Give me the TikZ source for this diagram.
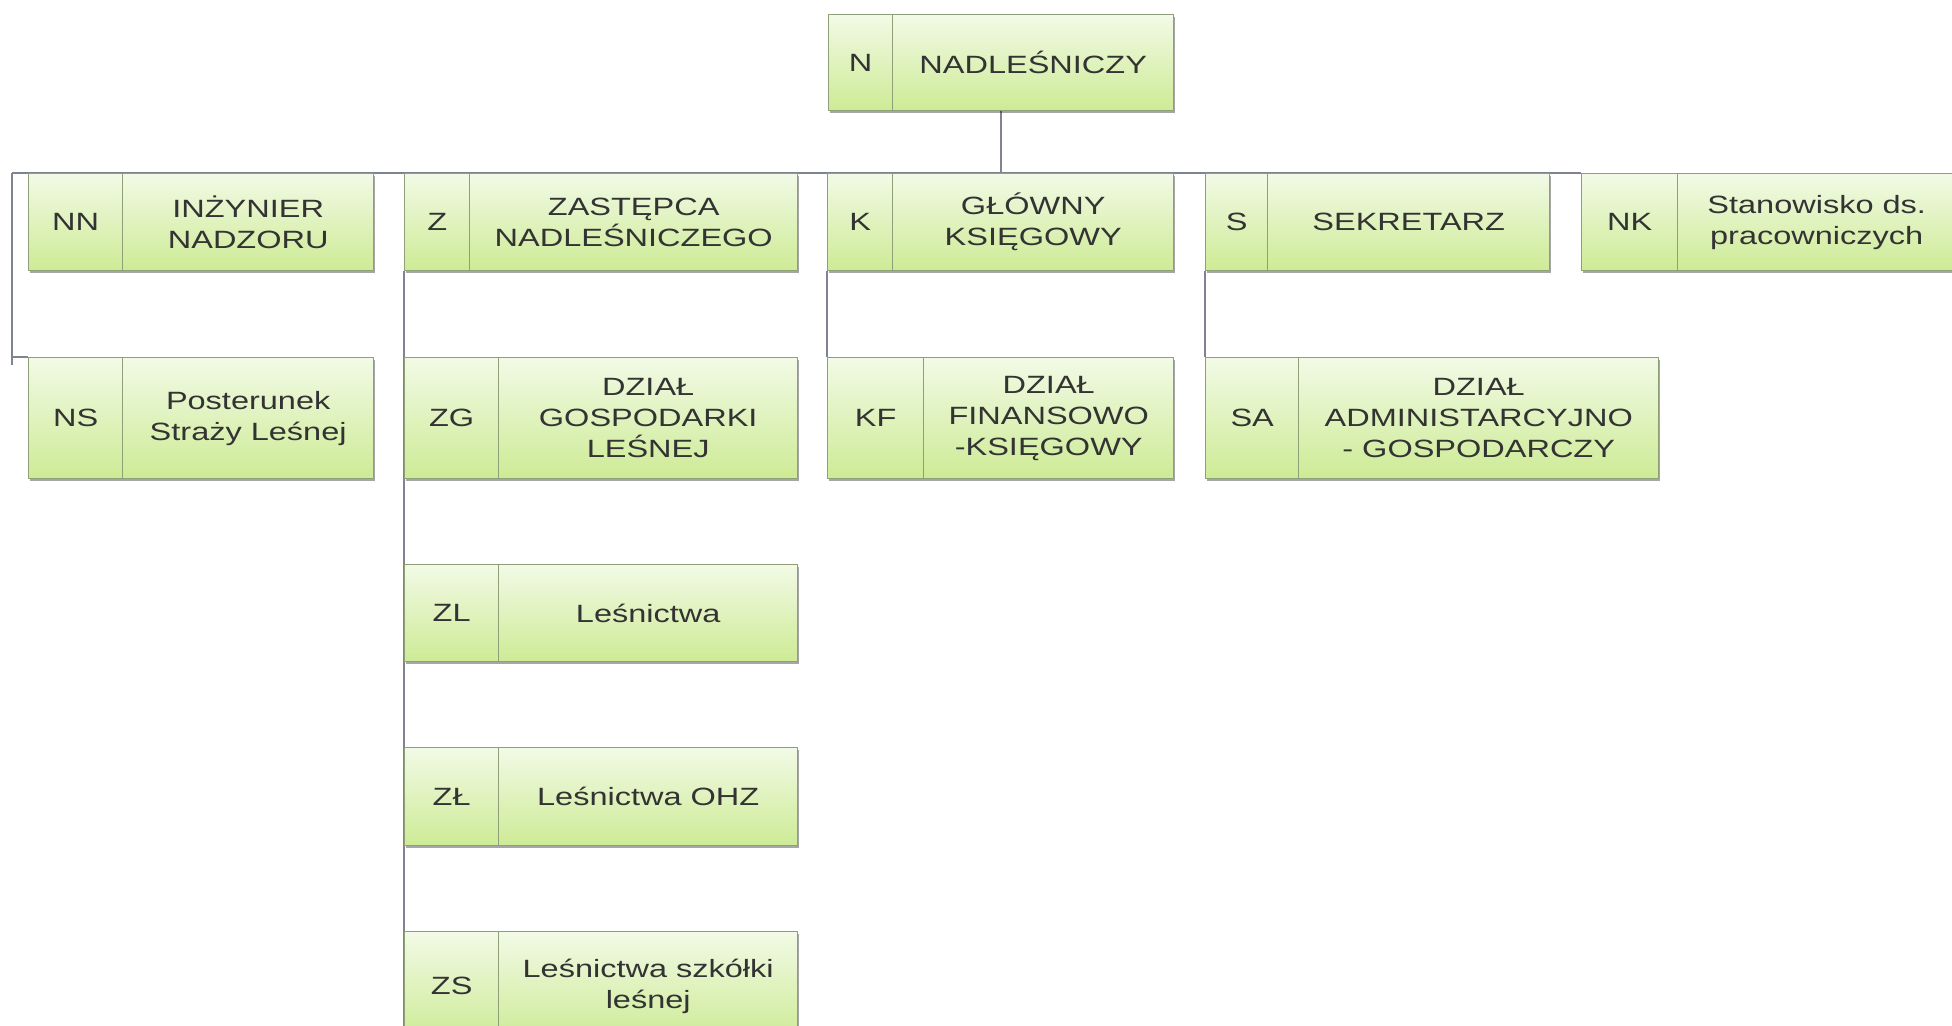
\documentclass[tikz,border=0pt]{standalone}
\usepackage{fontspec}
\setmainfont[FakeStretch=1.3]{Liberation Sans}
\usetikzlibrary{shadows,backgrounds,calc}
\definecolor{gtop}{HTML}{F2FAE6}
\definecolor{gbot}{HTML}{CDEB95}
\definecolor{gborder}{HTML}{8F9F78}
\definecolor{conn}{HTML}{7F8490}
\definecolor{txt}{HTML}{333333}
\tikzset{
  cell/.style={draw=gborder, line width=0.7pt, top color=gtop, bottom color=gbot,
    inner sep=0pt, align=center, text=txt, anchor=north west,
    font=\fontsize{12.5}{15.5}\selectfont,
    drop shadow={shadow xshift=0.7pt, shadow yshift=-1pt, opacity=0.35, fill=black}},
  link/.style={draw=conn, line width=1pt}
}
% #1 name, #2 x left, #3 x divider, #4 x right, #5 y top, #6 y bottom, #7 code, #8 text
\newcommand\orgunit[8]{%
  \node[cell, minimum width={(#3-#2)*0.5pt}, minimum height={(#6-#5)*0.5pt}] (#1-c) at (#2,#5) {#7};
  \node[cell, minimum width={(#4-#3)*0.5pt}, minimum height={(#6-#5)*0.5pt}] (#1) at (#3,#5) {#8};
}
\begin{document}
\begin{tikzpicture}[x=0.5pt,y=-0.5pt]
\useasboundingbox (0,0) rectangle (1952,1025);

\orgunit{N}{828}{892}{1173}{14}{110}{N}{NADLEŚNICZY}
\orgunit{NN}{28}{122}{373}{173}{270}{NN}{INŻYNIER\\NADZORU}
\orgunit{Z}{404}{469}{797}{173}{270}{Z}{ZASTĘPCA\\NADLEŚNICZEGO}
\orgunit{K}{827}{892}{1173}{173}{270}{K}{GŁÓWNY\\KSIĘGOWY}
\orgunit{S}{1205}{1267}{1549}{173}{270}{S}{SEKRETARZ}
\orgunit{NK}{1581}{1677}{1955}{173}{270}{NK}{Stanowisko ds.\\pracowniczych}
\orgunit{NS}{28}{122}{373}{357}{478}{NS}{Posterunek\\Straży Leśnej}
\orgunit{ZG}{404}{498}{797}{357}{478}{ZG}{DZIAŁ\\GOSPODARKI\\LEŚNEJ}
\orgunit{KF}{827}{923}{1173}{357}{478}{KF}{DZIAŁ\\FINANSOWO\\-KSIĘGOWY}
\orgunit{SA}{1205}{1298}{1658}{357}{478}{SA}{DZIAŁ\\ADMINISTARCYJNO\\- GOSPODARCZY}
\orgunit{ZL}{404}{498}{797}{564}{661}{ZL}{Leśnictwa}
\orgunit{ZLL}{404}{498}{797}{747}{845}{ZŁ}{Leśnictwa OHZ}
\orgunit{ZS}{404}{498}{797}{931}{1040}{ZS}{Leśnictwa szkółki\\leśnej}

\begin{scope}[on background layer]
  \fill[white] (0,0) rectangle (1952,1025);
  \coordinate (busL) at (12,173);
  \coordinate (Nmid) at ($(N-c.south west)!0.5!(N.south east)$);
  \draw[link] (Nmid) -- (Nmid |- K.north);
  \draw[link] (busL) -- (NK-c.north west);
  \draw[link] (busL) -- ($(busL |- NS-c.north west)+(0,8)$);
  \draw[link] (busL |- NS-c.north west) -- (NS-c.north west);
  \draw[link] (Z-c.south west) -- (ZS-c.south west);
  \draw[link] (K-c.south west) -- (KF-c.north west);
  \draw[link] (S-c.south west) -- (SA-c.north west);
\end{scope}
\end{tikzpicture}
\end{document}
